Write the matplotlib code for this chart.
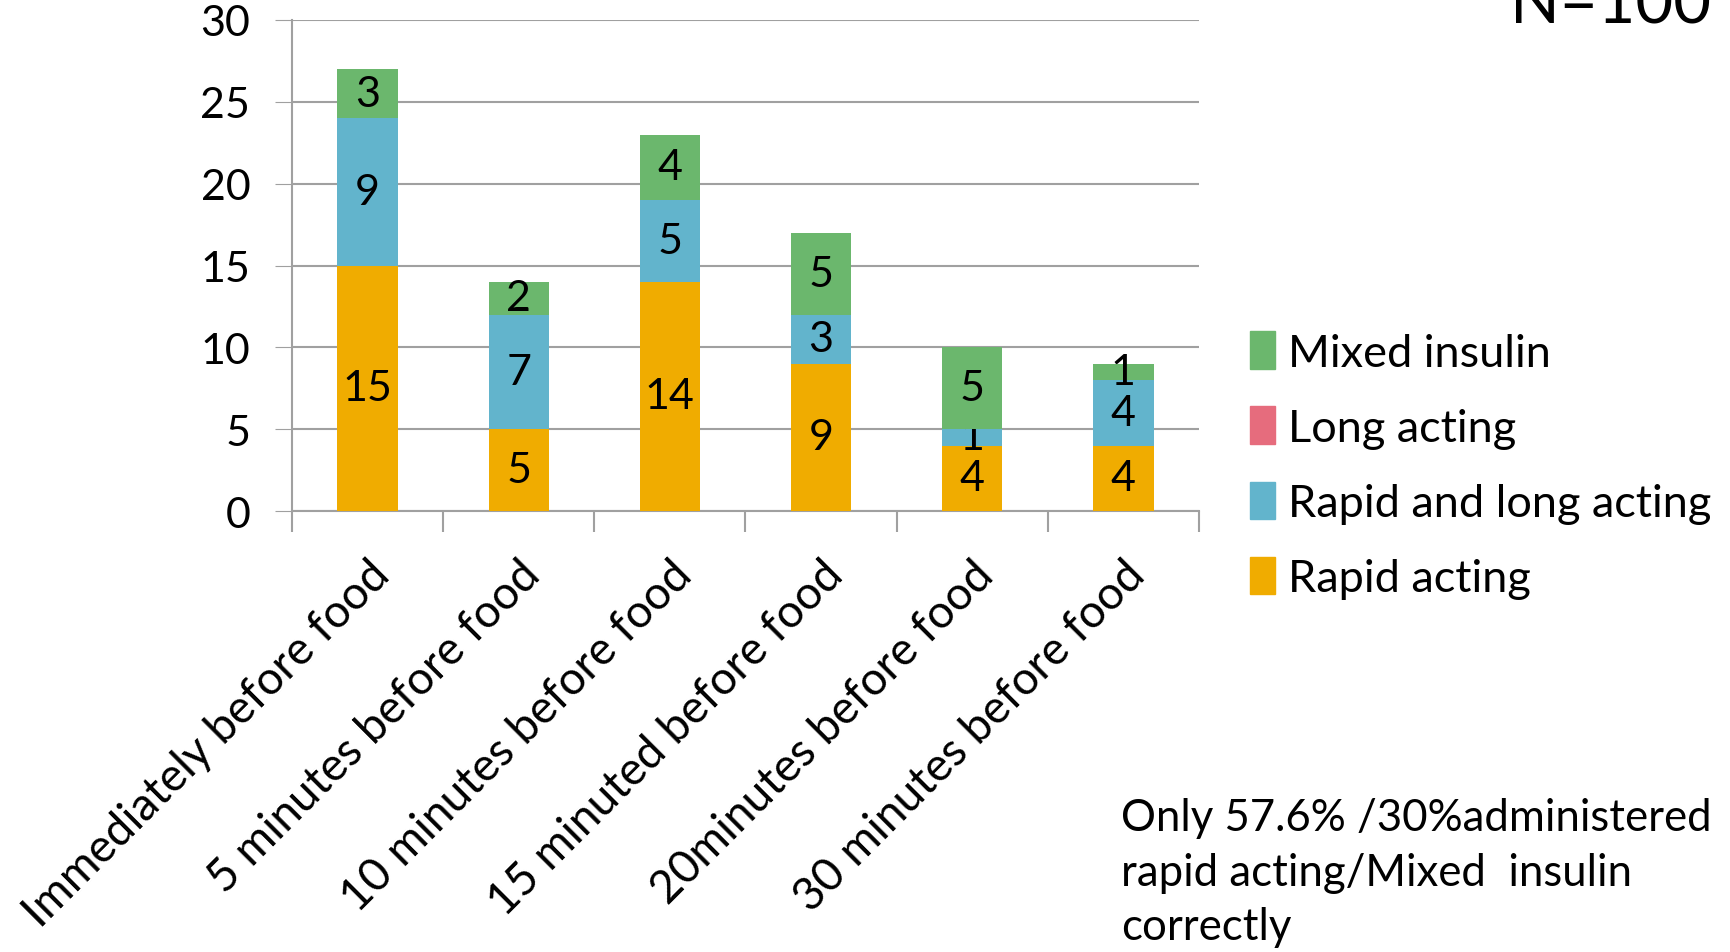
import numpy as np
import matplotlib
matplotlib.use('Agg')
import matplotlib.pyplot as plt
from matplotlib.patches import Patch

plt.rcParams['font.family'] = ['Lato', 'DejaVu Sans']

# data
categories = ['Immediately before food', '5 minutes before food', '10 minutes before food',
              '15 minuted before food', '20minutes before food', '30 minutes before food']
rapid = [15, 5, 14, 9, 4, 4]
rapid_long = [9, 7, 5, 3, 1, 4]
long_acting = [0, 0, 0, 0, 0, 0]
mixed = [3, 2, 4, 5, 5, 1]

series = [('Rapid acting', rapid, '#F0AC00'),
          ('Rapid and long acting', rapid_long, '#62B4CC'),
          ('Long acting', long_acting, '#E66C7D'),
          ('Mixed insulin', mixed, '#6BB76D')]

fig = plt.figure(figsize=(17.3, 9.53), dpi=100)
ax = fig.add_axes([0.1688, 0.4627, 0.5242, 0.5153])

x = np.arange(len(categories))
bottom = np.zeros(len(categories))
for name, vals, col in series:
    bars = ax.bar(x, vals, 0.4, bottom=bottom, color=col, label=name, zorder=3)
    labs = [str(v) if v > 0 else '' for v in vals]
    ax.bar_label(bars, labels=labs, label_type='center', fontsize=31, color='black')
    bottom = bottom + np.array(vals)

ax.set_xlim(-0.5, len(categories) - 0.5)
ax.set_ylim(0, 30)
ax.set_yticks(range(0, 31, 5))
ax.tick_params(axis='y', labelsize=31, length=12, color='#A0A0A0', pad=18)
ax.yaxis.grid(True, color='#A0A0A0', linewidth=1.5, zorder=0)
ax.set_xticks(x)
ax.set_xticklabels(categories, rotation=45, ha='right', rotation_mode='anchor', fontsize=33)
ax.tick_params(axis='x', length=0, pad=30)
ax.set_xticks(np.arange(-0.5, len(categories)), minor=True)
ax.tick_params(axis='x', which='minor', length=15, color='#A0A0A0', width=1.5)
for s in ['top', 'right']:
    ax.spines[s].set_visible(False)
for s in ['left', 'bottom']:
    ax.spines[s].set_color('#A0A0A0')
    ax.spines[s].set_linewidth(1.5)

handles = [Patch(color=c, label=n) for n, v, c in series[::-1]]
fig.legend(handles=handles, loc='upper left', bbox_to_anchor=(0.699, 0.694), frameon=False,
           fontsize=32.5, handlelength=0.55, handleheight=0.9, handletextpad=0.3, labelspacing=0.73)

fig.text(0.873, 0.975, 'N=100', fontsize=47, ha='left', va='baseline')
fig.text(0.648, 0.163, 'Only 57.6% /30%administered\nrapid acting/Mixed  insulin\ncorrectly',
         fontsize=31.5, ha='left', va='top', linespacing=1.42)

fig.savefig('out.png', dpi=100)
